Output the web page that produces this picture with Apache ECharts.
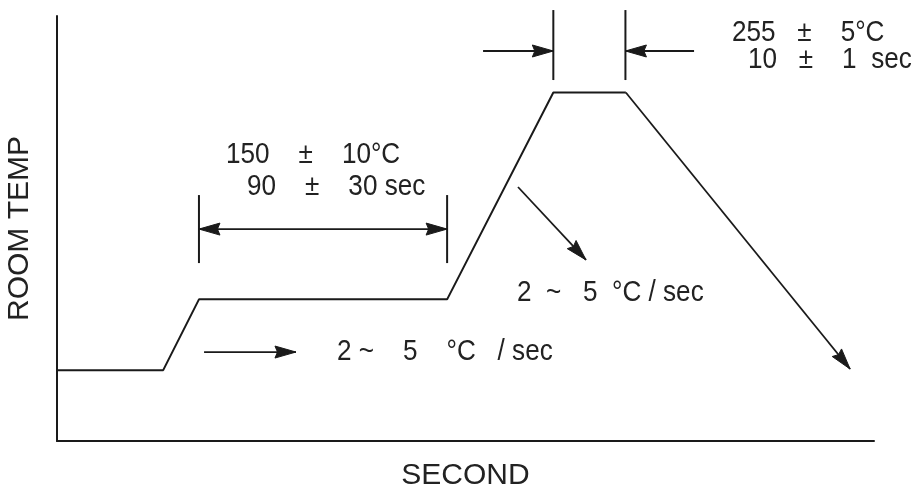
<!DOCTYPE html>
<html>
<head>
    <meta charset="utf-8">
    <title>Reflow profile</title>
    <script src="https://cdn.jsdelivr.net/npm/echarts@6/dist/echarts.min.js"></script>
    <style>
        html, body { margin: 0; padding: 0; background: #fff; }
    </style>
</head>
<body>
    <div id="main" style="width: 917px;height:488px;"></div>
    <script type="text/javascript">
        // profile (time in s, temperature in deg C, rough scale)
        var timeSec = [0, 52, 69.5, 191, 243, 278.5];
        var tempC = [50, 50, 100, 100, 246, 246];

        // dimension ticks: [x, yFrom, yTo]
        var extLines = [
            [69.5, 125.6, 173.6],
            [191, 125.6, 173.6],
            [243, 254.8, 304.2],
            [278.3, 254.8, 304.2]
        ];

        // arrows: [x1, y1, x2, y2, headAtStart, headAtEnd]
        var arrows = [
            [69.5, 149.6, 191, 149.6, 1, 1],
            [208.6, 275.3, 243, 275.3, 0, 1],
            [311.9, 275.3, 278.3, 275.3, 0, 1],
            [72, 62.8, 117, 62.8, 0, 1],
            [225.7, 179.3, 259, 127.8, 0, 1],
            [278.5, 246, 388.3, 50.8, 0, 1]
        ];

        var noteTexts = [
            '150    ±    10°C',
            '90    ±    30 sec',
            '255   ±    5°C',
            '10   ±    1  sec',
            '2  ~   5  °C / sec',
            '2 ~    5    °C   / sec'
        ];
        // where each note starts (px) and its cap middle
        var noteX = [226, 247, 732, 748, 517, 337];
        var noteY = [154, 186, 31.5, 58.7, 291.7, 350.5];

        var ink = '#1a1a1a';
        var noteFont = "29px 'Liberation Sans', Arial, sans-serif";

        var myChart = echarts.init(document.getElementById('main'));

        function head(tip, from, len, half) {
            var dx = tip[0] - from[0], dy = tip[1] - from[1];
            var d = Math.sqrt(dx * dx + dy * dy);
            var ux = dx / d, uy = dy / d;
            var bx = tip[0] - ux * len, by = tip[1] - uy * len;
            var nx = tip[0] - ux * len * 0.88, ny = tip[1] - uy * len * 0.88;
            return {
                type: 'polygon',
                shape: { points: [tip, [bx - uy * half, by + ux * half], [nx, ny], [bx + uy * half, by - ux * half]] },
                style: { fill: ink, stroke: ink, lineWidth: 1 }
            };
        }

        var option = {
            backgroundColor: '#fff',
            animation: false,
            grid: { left: 57, right: 43, top: 16, bottom: 47, outerBoundsMode: 'none' },
            xAxis: {
                type: 'value', min: 0, max: 400,
                name: 'SECOND', nameLocation: 'middle', nameGap: 20,
                nameTextStyle: { fontSize: 30, color: '#222', fontFamily: 'Liberation Sans' },
                axisLine: { lineStyle: { color: ink, width: 2 } },
                axisTick: { show: false }, axisLabel: { show: false }, splitLine: { show: false }
            },
            yAxis: {
                type: 'value', min: 0, max: 300,
                name: 'ROOM TEMP', nameLocation: 'middle', nameGap: 22,
                nameTextStyle: { fontSize: 30, color: '#222', fontFamily: 'Liberation Sans' },
                axisLine: { lineStyle: { color: ink, width: 2 } },
                axisTick: { show: false }, axisLabel: { show: false }, splitLine: { show: false }
            },
            series: [{
                type: 'line',
                data: timeSec.map(function (t, i) { return [t, tempC[i]]; }),
                showSymbol: false,
                lineStyle: { color: ink, width: 2 }
            }, {
                type: 'custom',
                data: extLines,
                renderItem: function (params, api) {
                    var a = api.coord([api.value(0), api.value(1)]);
                    var b = api.coord([api.value(0), api.value(2)]);
                    return { type: 'line', shape: { x1: a[0], y1: a[1], x2: b[0], y2: b[1] }, style: { stroke: ink, lineWidth: 2 } };
                }
            }, {
                type: 'custom',
                data: arrows,
                renderItem: function (params, api) {
                    var p1 = api.coord([api.value(0), api.value(1)]);
                    var p2 = api.coord([api.value(2), api.value(3)]);
                    var kids = [{ type: 'line', shape: { x1: p1[0], y1: p1[1], x2: p2[0], y2: p2[1] }, style: { stroke: ink, lineWidth: 1.8 } }];
                    if (api.value(4)) kids.push(head(p1, p2, 21, 6));
                    if (api.value(5)) kids.push(head(p2, p1, 21, 6));
                    return { type: 'group', children: kids };
                }
            }],
            graphic: noteTexts.map(function (t, i) {
                return {
                    type: 'text', x: noteX[i], y: noteY[i] - 13.5, scaleX: 0.9,
                    style: { text: t, font: noteFont, fill: '#222', verticalAlign: 'top' }
                };
            })
        };

        myChart.setOption(option);
    </script>
</body>
</html>
